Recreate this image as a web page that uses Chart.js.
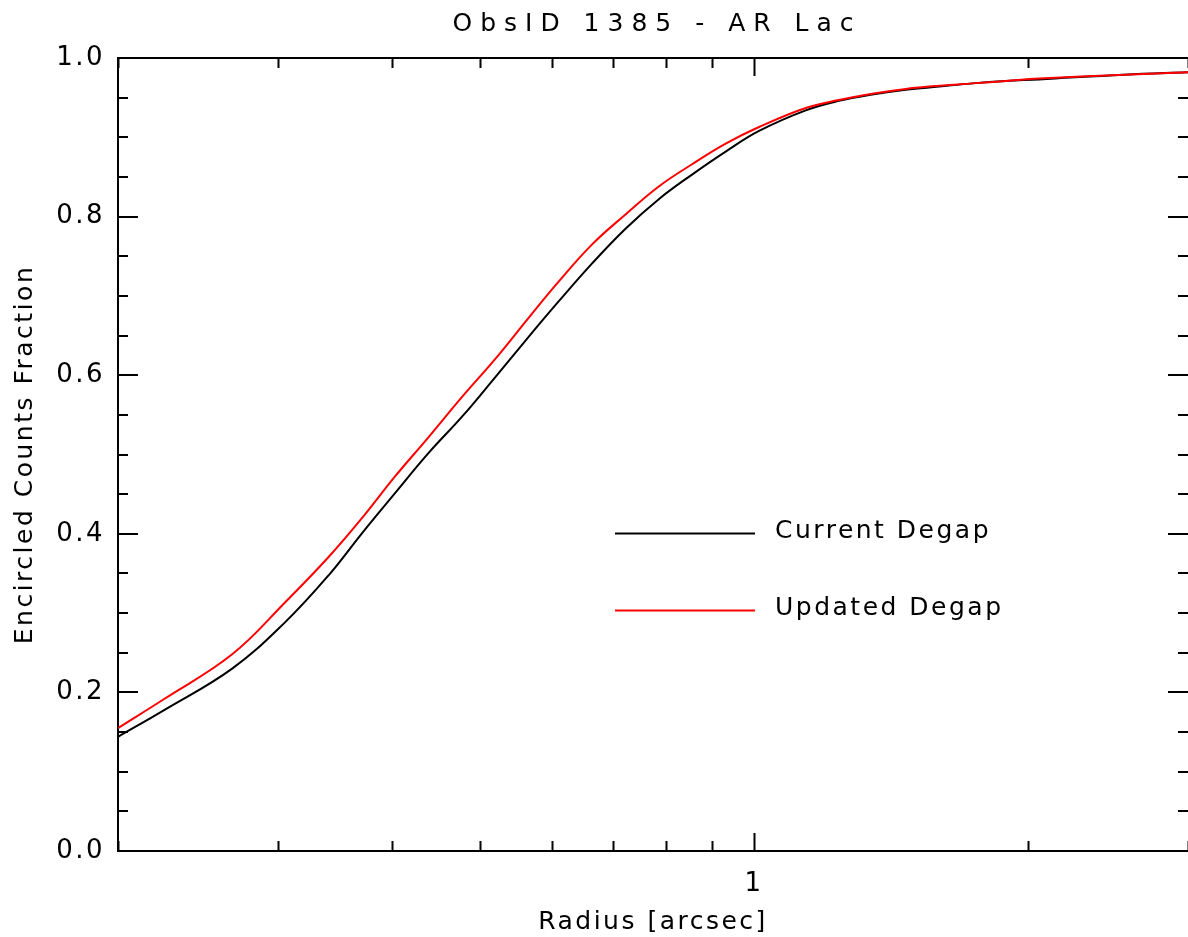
<!DOCTYPE html>
<html>
<head>
<meta charset="utf-8">
<script src="https://cdn.jsdelivr.net/npm/chart.js@4.4.1/dist/chart.umd.min.js"></script>
<style>
  body { margin: 0; background: #fff; }
  #wrap { width: 1188px; height: 937px; }
</style>
</head>
<body>
<div id="wrap"><canvas id="eefChart" width="1188" height="937"></canvas></div>
<script>
let chartTitle = "ObsID 1385 - AR Lac";
let xTitle = "Radius [arcsec]";
let yTitle = "Encircled Counts Fraction";
let seriesNames = ["Current Degap", "Updated Degap"];

// radius in arcsec
let radius = [0.2, 0.225, 0.267, 0.305, 0.341, 0.371, 0.403, 0.439, 0.478, 0.52, 0.566, 0.61, 0.664, 0.723,
              0.786, 0.855, 0.931, 1.013, 1.14, 1.24, 1.349, 1.469, 1.598, 1.739, 1.892, 2.058, 2.553, 3.0];
let currentDegap = [0.144, 0.178, 0.230, 0.288, 0.348, 0.401, 0.451, 0.502, 0.548, 0.598, 0.649, 0.693, 0.741, 0.785,
                    0.822, 0.853, 0.882, 0.908, 0.934, 0.946, 0.954, 0.960, 0.964, 0.968, 0.971, 0.973, 0.979, 0.982];
let updatedDegap = [0.155, 0.192, 0.248, 0.313, 0.371, 0.420, 0.472, 0.522, 0.573, 0.621, 0.673, 0.718, 0.765, 0.803,
                    0.838, 0.866, 0.892, 0.913, 0.937, 0.947, 0.955, 0.961, 0.965, 0.968, 0.971, 0.974, 0.979, 0.982];

// tick marks
let xTicks = [0.2, 0.3, 0.4, 0.5, 0.6, 0.7, 0.8, 0.9, 1, 2, 3];
let xLabelled = [1];
let yLabelStep = 0.2;
let yMinorStep = 0.05;

let chart;

const frame = {
	id: 'frame',
	beforeDraw(chart) {
		chart.ctx.letterSpacing = '2.5px';
	},
	beforeDatasetsDraw(chart) {
		const {ctx, chartArea: a, scales: {x, y}} = chart;
		ctx.save();
		ctx.strokeStyle = '#000';
		ctx.lineWidth = 2;
		ctx.beginPath();
		ctx.moveTo(a.left, a.top);
		ctx.lineTo(a.right, a.top);
		xTicks.forEach(v => {
			let px = Math.round(x.getPixelForValue(v)) + 0.5;
			let len = xLabelled.includes(v) ? 18 : 10;
			ctx.moveTo(px, a.bottom); ctx.lineTo(px, a.bottom - len);
			ctx.moveTo(px, a.top); ctx.lineTo(px, a.top + len);
		});
		let n = Math.round(1 / yMinorStep);
		for (let i = 0; i <= n; i++) {
			let v = i * yMinorStep;
			let py = Math.round(y.getPixelForValue(v));
			let major = Math.abs(v / yLabelStep - Math.round(v / yLabelStep)) < 1e-6;
			let len = major ? 20 : 10;
			ctx.moveTo(a.left, py); ctx.lineTo(a.left + len, py);
			ctx.moveTo(a.right, py); ctx.lineTo(a.right - len, py);
		}
		ctx.stroke();
		ctx.restore();
	},
	afterDraw(chart) {
		const {ctx, chartArea: a} = chart;
		ctx.save();
		// title
		ctx.letterSpacing = '8px';
		ctx.font = '25px "DejaVu Sans"';
		ctx.fillStyle = '#000';
		ctx.textAlign = 'center';
		ctx.textBaseline = 'alphabetic';
		ctx.fillText(chartTitle, (a.left + a.right) / 2 + 4, 31);

		// legend inside the plot
		ctx.letterSpacing = '2.5px';
		ctx.textAlign = 'left';
		let x0 = a.left + 0.4645 * (a.right - a.left);
		let x1 = x0 + 140;
		let rows = [0.599, 0.696];
		let sets = [chart.data.datasets[1], chart.data.datasets[0]];
		sets.forEach((ds, i) => {
			let yy = Math.round(a.top + rows[i] * (a.bottom - a.top)) + 0.5;
			ctx.strokeStyle = ds.borderColor;
			ctx.lineWidth = 2;
			ctx.beginPath();
			ctx.moveTo(x0, yy); ctx.lineTo(x1, yy);
			ctx.stroke();
			ctx.fillText(ds.label, x1 + 20, yy + 4);
		});
		ctx.restore();
	}
};

function configureChart(){
	Chart.defaults.font.family = '"DejaVu Sans"';
	Chart.defaults.color = '#000';

	var ctx = document.getElementById('eefChart').getContext('2d');
	chart = new Chart(ctx, {
		type: 'line',
		data: {
			datasets: [{
				label: seriesNames[1],
				data: radius.map((r, i) => ({x: r, y: updatedDegap[i]})),
				borderColor: '#ff0000',
				borderWidth: 2,
				pointRadius: 0,
				tension: 0.4,
				order: 0
			},
			{
				label: seriesNames[0],
				data: radius.map((r, i) => ({x: r, y: currentDegap[i]})),
				borderColor: '#000000',
				borderWidth: 2,
				pointRadius: 0,
				tension: 0.4,
				order: 1
			}]
		},
		options: {
			responsive: false,
			animation: false,
			layout: { padding: { top: 58, right: 0, bottom: 0, left: 0 } },
			plugins: {
				legend: { display: false },
				title: { display: false },
				tooltip: { enabled: false }
			},
			scales: {
				x: {
					type: 'logarithmic',
					min: 0.2,
					max: 3,
					grid: { display: false, drawTicks: false },
					border: { color: '#000', width: 2 },
					ticks: {
						autoSkip: false,
						maxRotation: 0,
						padding: 18,
						font: { size: 26 },
						callback: v => xLabelled.some(l => Math.abs(l - v) < 1e-9) ? '1' : ''
					},
					title: { display: true, text: xTitle, font: { size: 25 }, padding: { top: 3, bottom: 0 } },
					afterFit: s => { s.height = 86; s.paddingLeft = 0; s.paddingRight = 0; }
				},
				y: {
					min: 0,
					max: 1,
					grid: { display: false, drawTicks: false },
					border: { color: '#000', width: 2 },
					ticks: {
						stepSize: yLabelStep,
						padding: 13,
						font: { size: 26 },
						callback: v => v.toFixed(1)
					},
					title: { display: true, text: yTitle, font: { size: 25 }, padding: { top: 10, bottom: 0 } },
					afterFit: s => { s.width = 118; }
				}
			}
		},
		plugins: [frame]
	});
}

window.onload = function(){
	configureChart();
}
</script>
</body>
</html>
